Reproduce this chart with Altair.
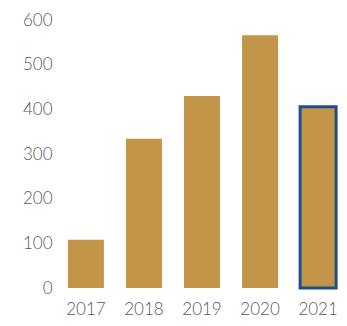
import altair as alt
import pandas as pd

years = ["2017", "2018", "2019", "2020", "2021"]
values = [108, 334, 430, 566, 406]
outlined = [False, False, False, False, True]

df = pd.DataFrame({"year": years, "value": values, "outlined": outlined})

chart = alt.Chart(df).mark_bar(color="#C29548", strokeWidth=3).encode(
    x=alt.X("year:N", sort=years, title=None,
            scale=alt.Scale(paddingInner=0.38, paddingOuter=0.05),
            axis=alt.Axis(labelAngle=0, domain=False, ticks=False, labelPadding=13)),
    y=alt.Y("value:Q", title=None,
            scale=alt.Scale(domain=[0, 600], nice=False),
            axis=alt.Axis(values=[0, 100, 200, 300, 400, 500, 600], domain=False,
                          ticks=False, grid=False, labelPadding=13)),
    stroke=alt.condition("datum.outlined", alt.value("#1F4E8C"), alt.value(None)),
).properties(
    width=274, height=268,
    autosize=alt.AutoSizeParams(type="none"),
    padding={"left": 57, "top": 12, "right": 0, "bottom": 30},
).configure_view(stroke=None).configure_axis(
    labelFont="Lato", labelFontSize=17, labelColor="#595959", labelFontWeight=300
)

chart.save("out.html", embed_options={"renderer": "svg", "actions": False})
